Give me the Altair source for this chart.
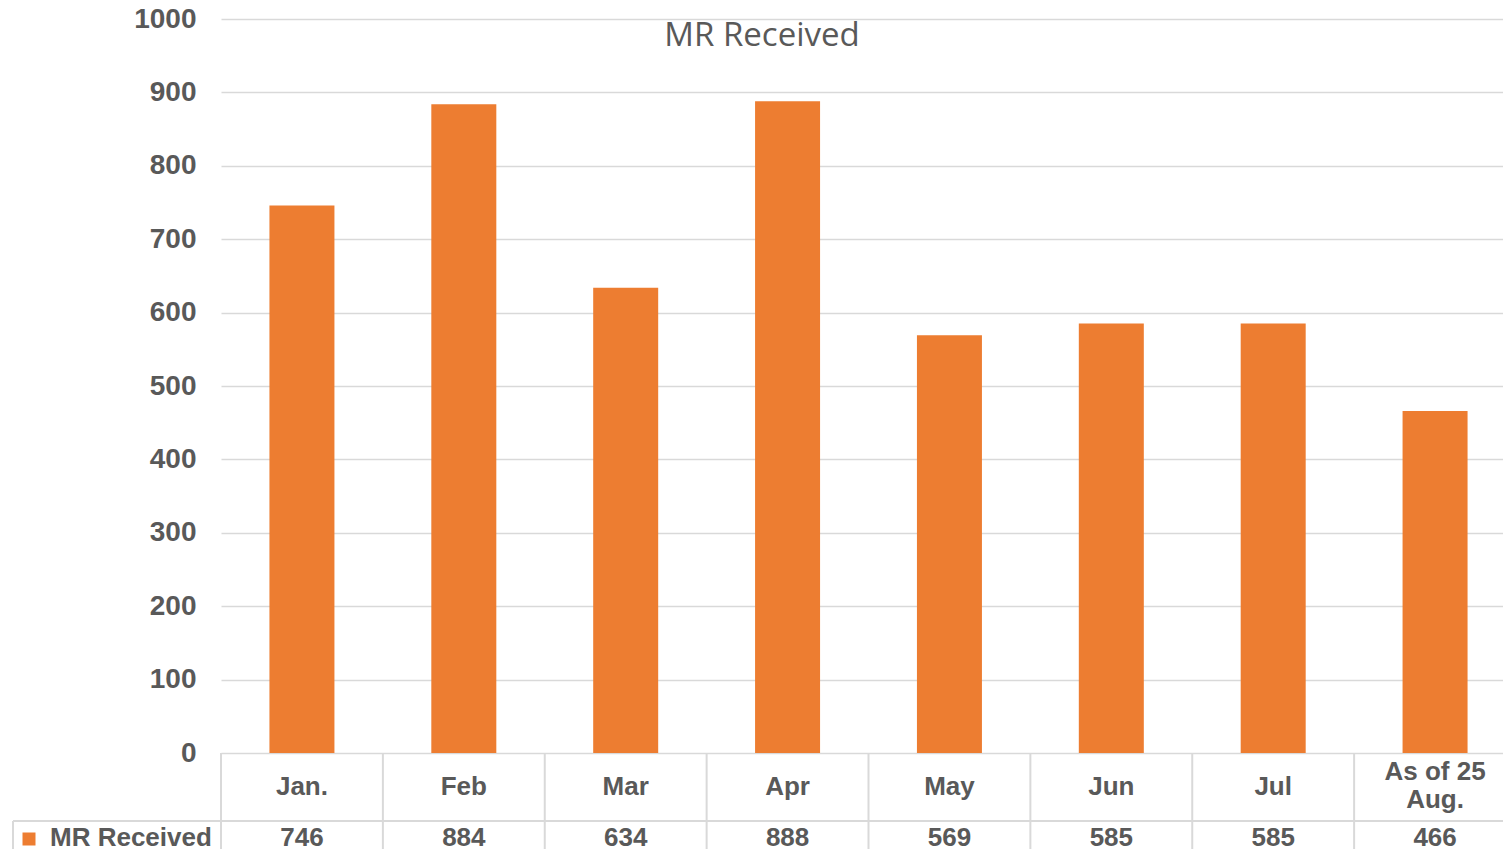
import altair as alt
import pandas as pd

categories = ["Jan.", "Feb", "Mar", "Apr", "May", "Jun", "Jul", "As of 25 Aug."]
labels = ["Jan.", "Feb", "Mar", "Apr", "May", "Jun", "Jul", "As of 25\nAug."]
values = [746, 884, 634, 888, 569, 585, 585, 466]
series_name = "MR Received"
y_ticks = [0, 100, 200, 300, 400, 500, 600, 700, 800, 900, 1000]

ORANGE = "#ED7D31"
TEXT = "#595959"
LINE = "#d9d9d9"
AX_FONT = "Liberation Sans"

df = pd.DataFrame({"cat": categories, "label": labels, "value": values})
one = pd.DataFrame({"t": [series_name]})

x_enc = alt.X(
    "cat:N",
    sort=categories,
    scale=alt.Scale(paddingInner=0, paddingOuter=0, range=[0, 1295]),
    axis=None,
)

bars = alt.Chart(df).mark_bar(color=ORANGE, size=65).encode(
    x=x_enc,
    y=alt.Y(
        "value:Q",
        scale=alt.Scale(domain=[0, 1000]),
        axis=alt.Axis(
            values=y_ticks,
            format="d",
            title=None,
            domain=False,
            ticks=False,
            grid=True,
            gridColor=LINE,
            gridWidth=1.5,
            labelFont=AX_FONT,
            labelFontWeight="bold",
            labelFontSize=28,
            labelColor=TEXT,
            labelPadding=25,
        ),
    ),
)

vrules = alt.Chart(df).mark_rule(color=LINE, strokeWidth=2).encode(
    x=alt.X("cat:N", sort=categories, bandPosition=0),
    y=alt.value(734),
    y2=alt.value(840),
)

row_line = alt.Chart(one).mark_rule(color=LINE, strokeWidth=2).encode(
    x=alt.value(-208), x2=alt.value(1300), y=alt.value(802)
)
left_border = alt.Chart(one).mark_rule(color=LINE, strokeWidth=2).encode(
    x=alt.value(-208), y=alt.value(802), y2=alt.value(840)
)

text_style = dict(font=AX_FONT, fontWeight="bold", fontSize=26, color=TEXT,
                  baseline="middle", align="center")

cat_text_single = alt.Chart(df).transform_filter(
    "indexof(datum.label, '\\n') < 0"
).mark_text(**text_style).encode(
    x=alt.X("cat:N", sort=categories),
    y=alt.value(768),
    text="label:N",
)

cat_text_multi = alt.Chart(df).transform_filter(
    "indexof(datum.label, '\\n') >= 0"
).mark_text(lineBreak="\n", lineHeight=28, **text_style).encode(
    x=alt.X("cat:N", sort=categories),
    y=alt.value(753),
    text="label:N",
)

val_text = alt.Chart(df).mark_text(**text_style).encode(
    x=alt.X("cat:N", sort=categories),
    y=alt.value(819),
    text="value:Q",
)

legend_sq = alt.Chart(one).mark_square(size=169, color=ORANGE, opacity=1, filled=True).encode(
    x=alt.value(-192), y=alt.value(820)
)
legend_txt = alt.Chart(one).mark_text(
    font=AX_FONT, fontWeight="bold", fontSize=26, color=TEXT,
    baseline="middle", align="left",
).encode(x=alt.value(-171), y=alt.value(819), text="t:N")

title_txt = alt.Chart(one).mark_text(
    font="Open Sans", fontSize=33, color=TEXT, baseline="middle", align="center",
).encode(x=alt.value(541), y=alt.value(17), text="t:N")

chart = (
    alt.layer(bars, vrules, row_line, left_border, cat_text_single, cat_text_multi,
              val_text, legend_sq, legend_txt, title_txt)
    .properties(
        width=1282,
        height=734,
        autosize=alt.AutoSizeParams(type="none"),
        padding={"left": 213, "top": 11, "right": 0, "bottom": 96},
        background="white",
    )
    .configure_view(strokeWidth=0)
)

chart.save("out.html", embed_options={"renderer": "svg", "actions": False})
